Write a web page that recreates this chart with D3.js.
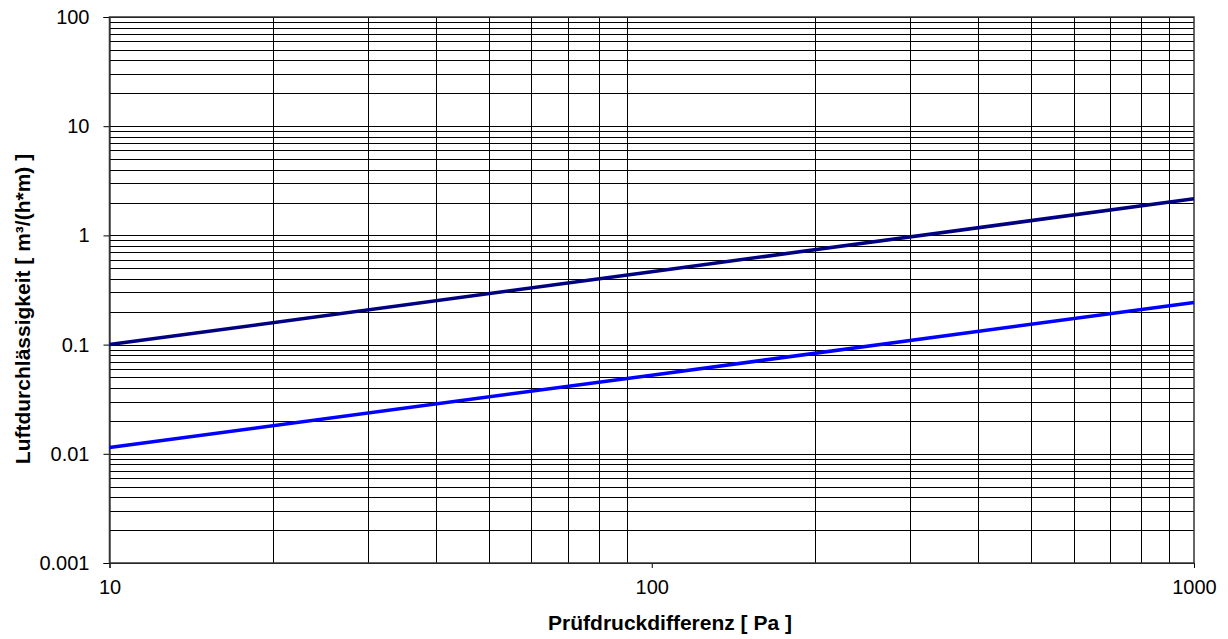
<!DOCTYPE html>
<html><head><meta charset="utf-8">
<script src="https://cdnjs.cloudflare.com/ajax/libs/d3/7.8.5/d3.min.js"></script>
<style>body{margin:0;background:#fff}svg{display:block}</style>
</head><body>
<svg id="c" width="1228" height="639"></svg>
<script>
const xTicks = [10, 100, 1000];
const yTicks = [0.001, 0.01, 0.1, 1, 10, 100];
const yTickLabels = ["0.001", "0.01", "0.1", "1", "10", "100"];
const pressure = [10, 100, 1000];
const seriesDark = [0.100, 0.465, 2.17];
const seriesBlue = [0.0114, 0.0525, 0.243];

const FONT = "'Liberation Sans', Arial, sans-serif";
const m = {l: 109.5, r: 1194, t: 17, b: 563};
const svg = d3.select("#c");
const x = d3.scaleLog().domain([10, 1000]).range([m.l, m.r]);
const y = d3.scaleLog().domain([0.001, 100]).range([m.b, m.t]);

const gx = [], gy = [];
for (let d = 10; d < 1000; d *= 10) for (let k = 2; k <= 9; k++) gx.push(d * k);
for (let d = 0.001; d < 99; d *= 10) for (let k = 1; k <= 9; k++) gy.push(+(d * k).toPrecision(3));
gy.push(100);

const grid = svg.append("g").attr("stroke", "#000").attr("stroke-width", 1).attr("shape-rendering", "crispEdges");
grid.selectAll(".h").data(gy).join("line")
  .attr("x1", m.l).attr("x2", m.r).attr("y1", d => Math.round(y(d)) + 0.5).attr("y2", d => Math.round(y(d)) + 0.5);
grid.selectAll(".v").data(gx).join("line")
  .attr("y1", m.t).attr("y2", m.b).attr("x1", d => Math.round(x(d)) + 0.5).attr("x2", d => Math.round(x(d)) + 0.5);

// axes
const yAxis = d3.axisLeft(y).tickValues(yTicks).tickSize(6).tickPadding(14)
  .tickFormat((d, i) => yTickLabels[i]);
const xAxis = d3.axisBottom(x).tickValues(xTicks).tickSize(5).tickPadding(12)
  .tickFormat(d3.format("d"));
const ya = svg.append("g").attr("transform", `translate(${m.l},0)`).call(yAxis);
const xa = svg.append("g").attr("transform", `translate(0,${m.b})`).call(xAxis);
[ya, xa].forEach(a => {
  a.attr("font-family", FONT).attr("font-size", 20);
  a.select(".domain").attr("stroke", "#000");
  a.selectAll(".tick line").attr("stroke", "#000");
  a.selectAll("text").attr("fill", "#000").style("font-size", "20px").style("font-family", FONT);
});
svg.append("rect").attr("x", m.l).attr("y", m.t).attr("width", m.r - m.l).attr("height", m.b - m.t)
  .attr("fill", "none").attr("stroke", "#333").attr("stroke-width", 1.5);

const line = d3.line().x(d => x(d[0])).y(d => y(d[1]));
svg.append("path").datum(pressure.map((p, i) => [p, seriesDark[i]])).attr("d", line)
  .attr("fill", "none").attr("stroke", "#000080").attr("stroke-width", 3.5);
svg.append("path").datum(pressure.map((p, i) => [p, seriesBlue[i]])).attr("d", line)
  .attr("fill", "none").attr("stroke", "#0000ff").attr("stroke-width", 3.5);

svg.append("text").attr("x", 670).attr("y", 630).attr("text-anchor", "middle")
  .attr("font-family", FONT).attr("font-weight", "bold").attr("font-size", 21)
  .text("Prüfdruckdifferenz [ Pa ]");
svg.append("text").attr("transform", `translate(30,309) rotate(-90)`).attr("text-anchor", "middle")
  .attr("font-family", FONT).attr("font-weight", "bold").attr("font-size", 21)
  .text("Luftdurchlässigkeit [ m³/(h*m) ]");
</script>
</body></html>
